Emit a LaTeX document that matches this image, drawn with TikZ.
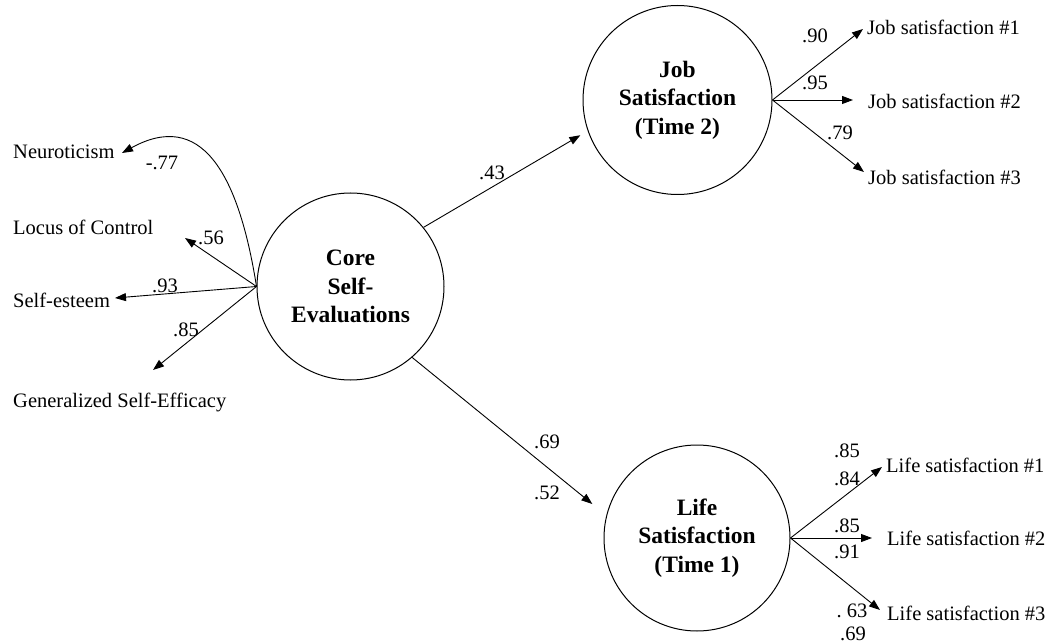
\documentclass[tikz,border=0pt]{standalone}
\usepackage{fontspec}
\setmainfont{Liberation Serif}
\usetikzlibrary{arrows.meta}
\begin{document}
\begin{tikzpicture}[x=1pt,y=-1pt,
  latent/.style={circle,draw,line width=1pt,inner sep=0pt,align=center,
    font=\fontsize{23.5}{28.5}\selectfont\bfseries},
  lbl/.style={font=\fontsize{20.5}{24}\selectfont,inner sep=0pt,anchor=base west},
  num/.style={font=\fontsize{20.5}{24}\selectfont,inner sep=0pt,anchor=base},
  arr/.style={line width=0.9pt,-{Triangle[length=11pt,width=8pt]}}]
\useasboundingbox (0,0) rectangle (1052,644);
% latent variables
\node[latent,minimum size=187pt] (core) at (350.5,286.5) {Core\\Self-\\Evaluations};
\node[latent,minimum size=189pt] (job) at (677.5,100) {Job\\Satisfaction\\(Time 2)};
\node[latent,minimum size=186pt] (life) at (697,538) {Life\\Satisfaction\\(Time 1)};
% indicator labels
\node[lbl] (neur) at (13,159) {Neuroticism};
\node[lbl] (loc) at (13,235) {Locus of Control};
\node[lbl] (se) at (13,308) {Self-esteem};
\node[lbl] (gse) at (13,407) {Generalized Self-Efficacy};
\node[lbl] (js1) at (867,35) {Job satisfaction \#1};
\node[lbl] (js2) at (868,109) {Job satisfaction \#2};
\node[lbl] (js3) at (868,185) {Job satisfaction \#3};
\node[lbl] (ls1) at (886,472) {Life satisfaction \#1};
\node[lbl] (ls2) at (887,545) {Life satisfaction \#2};
\node[lbl] (ls3) at (887,620) {Life satisfaction \#3};
% arrow tips
\coordinate (tneur) at (122,153);
\coordinate (tloc) at (185,238);
\coordinate (tse) at (115,298);
\coordinate (tgse) at (153,370);
\coordinate (tjs1) at (863,29);
\coordinate (tjs2) at (853,100);
\coordinate (tjs3) at (864,172);
\coordinate (tls1) at (882,467);
\coordinate (tls2) at (872,538);
\coordinate (tls3) at (880,610);
% connectors
\draw[arr] (core.west) .. controls (238,170) and (200,110) .. (tneur);
\draw[arr] (core.west) -- (tloc);
\draw[arr] (core.west) -- (tse);
\draw[arr] (core.west) -- (tgse);
\draw[arr,shorten >=8.5pt] (core.39) -- (job.199);
\draw[arr,shorten >=18pt] (core.311) -- (life.166);
\draw[arr] (job.east) -- (tjs1);
\draw[arr] (job.east) -- (tjs2);
\draw[arr] (job.east) -- (tjs3);
\draw[arr] (life.east) -- (tls1);
\draw[arr] (life.east) -- (tls2);
\draw[arr] (life.east) -- (tls3);
% coefficients
\node[num] (n1) at (162,170) {-.77};
\node[num] (n2) at (211,245) {.56};
\node[num] (n3) at (165,293) {.93};
\node[num] (n4) at (186,337) {.85};
\node[num] (n5) at (492,180) {.43};
\node[num] (n6) at (547,448) {.69};
\node[num] (n7) at (547,499) {.52};
\node[num] (n8) at (815,43) {.90};
\node[num] (n9) at (815,90) {.95};
\node[num] (n10) at (840,140) {.79};
\node[num] (n11) at (847,457) {.85};
\node[num] (n12) at (847,485) {.84};
\node[num] (n13) at (847,532) {.85};
\node[num] (n14) at (847,558) {.91};
\node[num] (n15) at (852,617) {.\ 63};
\node[num] (n16) at (853,640) {.69};
\end{tikzpicture}
\end{document}
